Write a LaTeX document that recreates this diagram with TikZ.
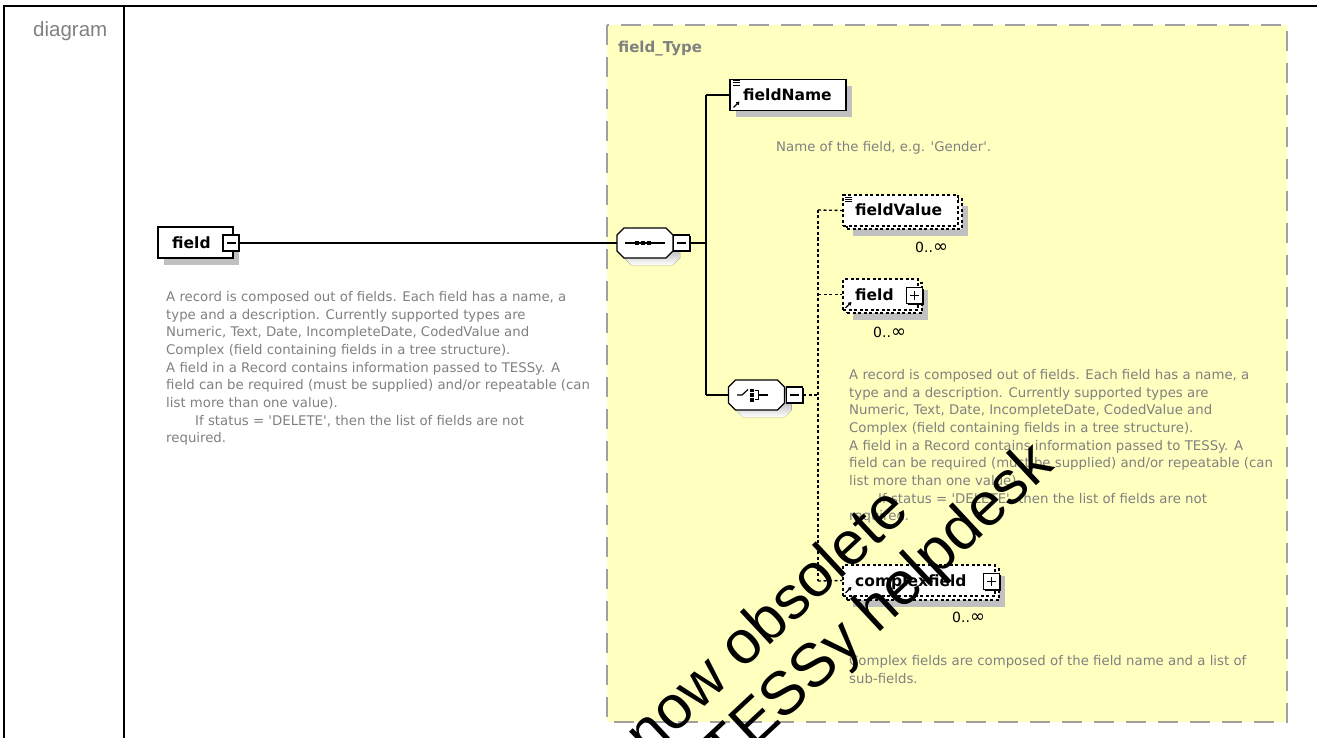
\documentclass[tikz,border=0pt]{standalone}
\usepackage{fontspec}
\newfontfamily\dv{DejaVu Sans}
\newfontfamily\lib{Liberation Sans}
\usetikzlibrary{calc,shadows,arrows.meta}
\definecolor{typefill}{RGB}{255,255,192}
\definecolor{typeedge}{RGB}{160,160,160}
\definecolor{shade}{RGB}{192,192,192}
\definecolor{desc}{RGB}{128,128,128}
\newcommand\octat[3]{%
  \begin{scope}[shift={(#2,#3)}]
    \fill[shade,shift={(7,7)}] (-21,-15) -- (21,-15) -- (28,-8) -- (28,8) -- (21,15) -- (-21,15) -- (-28,8) -- (-28,-8) -- cycle;
    \filldraw[fill=white,line width=1.3pt] (-21,-15) -- (21,-15) -- (28,-8) -- (28,8) -- (21,15) -- (-21,15) -- (-28,8) -- (-28,-8) -- cycle;
  \end{scope}
  \node[draw=none,minimum width=56pt,minimum height=30pt,inner sep=0pt] (#1) at (#2,#3) {};%
}
\newcommand\infsym{{\fontsize{18}{16}\selectfont ∞}}
\begin{document}
\begin{tikzpicture}[x=1pt,y=-1pt,
  frame/.style={line width=2pt,black},
  typebox/.style={fill=typefill,draw=typeedge,line width=2pt,dash pattern=on 20pt off 12pt},
  elem/.style={draw,fill=white,line width=1.3pt,inner sep=0pt,rectangle},
  opt/.style={dash pattern=on 3pt off 2.5pt},
  shd/.style={drop shadow={shadow xshift=6pt,shadow yshift=-7pt,fill=shade,opacity=1}},
  conn/.style={line width=1.3pt},
  optconn/.style={line width=1.3pt,dash pattern=on 3pt off 2.5pt},
  pm/.style={draw,fill=white,line width=1.2pt,minimum size=16pt,inner sep=0pt,
    drop shadow={shadow xshift=1.3pt,shadow yshift=-1.3pt,fill=black,opacity=1}},
  minus/.style={path picture={\draw[line width=1.2pt] ([xshift=3.5pt]path picture bounding box.west) -- ([xshift=-3.5pt]path picture bounding box.east);}},
  plus/.style={path picture={\draw[line width=1.2pt] ([xshift=3.5pt]path picture bounding box.west) -- ([xshift=-3.5pt]path picture bounding box.east) ([yshift=-3.5pt]path picture bounding box.north) -- ([yshift=3.5pt]path picture bounding box.south);}},
  lbl/.style={font=\dv\bfseries\fontsize{15.5}{18}\selectfont,inner sep=0pt,anchor=base west},
  occ/.style={font=\dv\fontsize{14}{16}\selectfont,inner sep=0pt,anchor=base west},
  desctext/.style={font=\dv\fontsize{13.3}{17.7}\selectfont,text=desc,align=left,inner sep=0pt},
  wm/.style={font=\lib\fontsize{61}{70}\selectfont,inner sep=0pt,text=black},
  icon/.style={line width=1pt},
  arr/.style={line width=1.3pt,-{Triangle[length=3.2pt,width=3.8pt]}}
]
\useasboundingbox (0,0) rectangle (1317,738);
\begin{scope}
\clip (0,0) rectangle (1317,738);

% frame
\draw[frame] (4,742) -- (4,6) -- (1322,6);
\draw[frame] (124,6) -- (124,742);
\node[font=\lib\fontsize{20.5}{24}\selectfont,text=desc,anchor=base west,inner sep=0pt] (dg) at (33,36.5) {diagram};

% type box
\draw[typebox] (607,25) rectangle (1287,722);
\node[font=\dv\bfseries\fontsize{15}{18}\selectfont,text=desc,anchor=base west,inner sep=0pt] (ftype) at (618,52.5) {field\_Type};

% left field element
\node[elem,shd,minimum width=75pt,minimum height=31pt] (fBox) at (195.5,242.5) {};
\node[lbl] (fTxt) at (172,248.5) {field};
\node[pm,minus] (fPM) at (231,243) {};
\node[desctext,anchor=north west] (fDesc) at (166,291) {A record is composed out of fields. Each field has a name, a\\type and a description. Currently supported types are\\Numeric, Text, Date, IncompleteDate, CodedValue and\\Complex (field containing fields in a tree structure).\\A field in a Record contains information passed to TESSy. A\\field can be required (must be supplied) and/or repeatable (can\\list more than one value).\\\hspace*{29pt}If status = 'DELETE', then the list of fields are not\\required.};

% sequence
\octat{seq}{645}{243}
\draw[line width=1.2pt] (625,243) -- (665,243);
\fill (635,241) rectangle (639,245);
\fill (641,241) rectangle (645,245);
\fill (647,241) rectangle (651,245);
\node[pm,minus] (seqPM) at (681.5,243) {};
\draw[conn] (fPM.east) -- (seq.west);

% trunk
\coordinate (trTop) at (706,95);
\coordinate (trMid) at (706,243);
\coordinate (trBot) at (706,395);
\draw[conn] (seqPM.east) -- (trMid);
\draw[conn] (trTop) -- (trBot);

% fieldName
\node[elem,shd,minimum width=116pt,minimum height=31pt] (fnBox) at (788,95) {};
\node[lbl] (fnTxt) at (743,100.5) {fieldName};
\draw[icon] (733,80.7) -- (739.5,80.7) (733,82.9) -- (739.5,82.9) (733,85.1) -- (739.5,85.1);
\draw[arr] (733.5,107.5) -- (739.5,101.5);
\draw[conn] (trTop) -- (fnBox.west);
\node[desctext,anchor=base west] (fnDesc) at (776,151.5) {Name of the field, e.g. 'Gender'.};

% choice
\octat{cho}{756.5}{395}
\draw[line width=1.2pt] (737,395) -- (742,395) -- (748,389.5);
\fill (750,388.5) rectangle (753.5,392);
\fill (750,393.3) rectangle (753.5,396.7);
\fill (750,398) rectangle (753.5,401.5);
\draw[line width=1.2pt] (754.5,390.2) -- (758.5,390.2) -- (758.5,399.8) -- (754.5,399.8) (758.5,395) -- (768,395);
\node[pm,minus] (choPM) at (794.5,395) {};
\draw[conn] (trBot) -- (cho.west);

% optional trunk
\coordinate (otTop) at (818,210);
\coordinate (otMid) at (818,395);
\coordinate (otBot) at (818,581);
\draw[optconn] (choPM.east) -- (otMid);
\draw[optconn] (otTop) -- (otBot);

% fieldValue
\node[elem,opt,shd,minimum width=115pt,minimum height=30pt] (fvBack) at (904.5,214) {};
\node[elem,opt,minimum width=115pt,minimum height=31pt] (fvBox) at (900.5,210.5) {};
\node[lbl] (fvTxt) at (855,215.5) {fieldValue};
\draw[icon] (845,197.5) -- (851.5,197.5) (845,199.7) -- (851.5,199.7) (845,201.9) -- (851.5,201.9);
\node[occ] (fvOcc) at (915,252) {0..\infsym};
\draw[optconn] (otTop) -- (fvBox.west);

% field (inner)
\node[elem,opt,shd,minimum width=75pt,minimum height=30pt] (fiBack) at (884.5,298) {};
\node[elem,opt,minimum width=75pt,minimum height=31pt] (fiBox) at (880.5,294.5) {};
\node[lbl] (fiTxt) at (855,300.5) {field};
\draw[arr] (845.5,308) -- (851.5,302);
\node[pm,plus] (fiPM) at (914.5,295.5) {};
\node[occ] (fiOcc) at (873,337) {0..\infsym};
\draw[optconn] (818,294.5) -- (fiBox.west);

% choice description
\node[desctext,anchor=north west] (cDesc) at (849,369) {A record is composed out of fields. Each field has a name, a\\type and a description. Currently supported types are\\Numeric, Text, Date, IncompleteDate, CodedValue and\\Complex (field containing fields in a tree structure).\\A field in a Record contains information passed to TESSy. A\\field can be required (must be supplied) and/or repeatable (can\\list more than one value).\\\hspace*{29pt}If status = 'DELETE', then the list of fields are not\\required.};

% complexfield
\node[elem,opt,shd,minimum width=152pt,minimum height=31pt] (cfBack) at (923,584.5) {};
\node[elem,opt,minimum width=152pt,minimum height=31pt] (cfBox) at (919,580.5) {};
\node[lbl] (cfTxt) at (855,586.5) {complexfield};
\draw[arr] (845.5,593) -- (851.5,587);
\node[pm,plus] (cfPM) at (991.5,581.5) {};
\node[occ] (cfOcc) at (952,622) {0..\infsym};
\draw[optconn] (otBot) -- (cfBox.west);
\node[desctext,anchor=north west] (cfDesc) at (849,655) {Complex fields are composed of the field name and a list of\\sub-fields.};

% watermark
\node[wm,rotate=43] (wm1) at (765,620) {now obsolete};
\node[wm,rotate=43] (wm2) at (880,610) {TESSy helpdesk};
\end{scope}
\end{tikzpicture}
\end{document}
